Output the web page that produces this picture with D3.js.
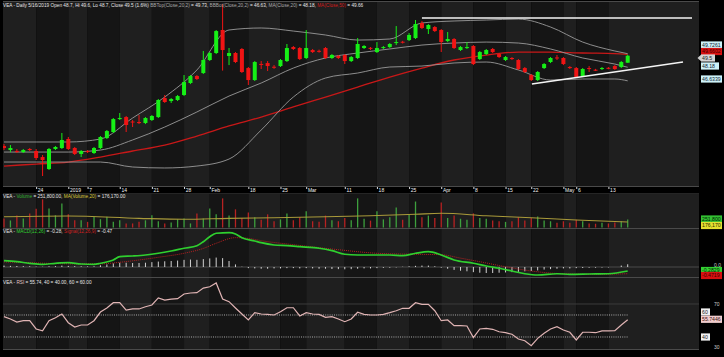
<!DOCTYPE html>
<html><head><meta charset="utf-8">
<script src="https://cdn.jsdelivr.net/npm/d3@7"></script>
<style>
body{margin:0;background:#000;overflow:hidden}
svg{display:block}
text{font-family:"Liberation Sans",Arial,sans-serif}
</style></head>
<body><svg id="c" width="724" height="357"></svg>
<script>
// ---------------- DATA ----------------
const open  = [39.18,38.72,38.62,38.49,38.84,38.61,37.92,36.55,38.84,38.95,39.98,38.95,38.27,38.61,38.38,38.95,40.09,40.78,42.26,42.49,41.98,41.92,41.81,42.15,42.49,44.66,44.32,44.44,45.01,46.38,47.18,47.52,49.01,49.81,52.44,49.47,49.81,50.27,48.09,46.72,48.56,48.66,48.24,48.32,48.89,50.49,50.38,49.24,50.15,50.06,50.38,49.24,49.47,49.58,48.89,49.24,50.38,50.40,49.92,50.38,50.49,50.95,51.10,51.29,51.52,53.24,52.55,52.78,52.44,51.18,51.41,50.15,50.38,50.61,49.12,49.69,50.27,49.69,49.01,49.24,49.01,48.09,47.29,46.72,48.09,48.78,49.30,49.24,48.21,48.09,47.18,48.09,47.90,47.98,48.12,48.32,48.21,48.70];
const high  = [39.41,39.29,38.84,38.84,38.95,38.84,38.15,38.95,39.18,40.67,40.21,39.07,38.72,38.72,39.07,40.32,41.01,42.38,42.95,42.61,42.15,42.72,42.49,42.72,44.55,45.01,44.66,45.01,47.29,47.29,47.29,50.04,49.92,52.44,55.40,50.38,49.92,50.38,48.21,48.89,48.89,48.89,48.43,49.12,50.84,50.61,50.49,52.44,50.27,50.20,50.49,49.69,49.58,49.69,49.47,51.52,50.72,50.49,51.06,50.61,50.95,52.89,51.20,52.09,53.58,53.46,53.12,52.89,52.55,52.21,51.52,50.61,51.06,50.72,50.04,50.27,50.38,49.81,49.47,49.35,49.12,48.21,47.41,47.75,48.66,49.35,49.58,49.35,48.32,48.21,48.09,48.32,48.00,48.21,48.20,48.43,48.89,49.60];
const low   = [38.72,38.49,38.38,38.38,38.61,37.58,35.75,36.44,38.72,38.84,38.72,38.15,37.92,38.38,38.27,38.84,39.98,40.67,42.15,40.78,41.35,41.69,41.69,42.04,42.38,44.10,44.10,44.32,44.89,46.26,46.72,47.41,48.89,49.69,47.80,48.43,48.66,47.52,46.15,46.61,47.98,47.75,48.00,48.21,48.78,50.15,49.01,49.12,49.81,49.85,49.12,49.12,49.12,48.55,48.78,49.12,50.27,50.15,49.81,50.27,50.38,50.72,50.90,51.18,51.41,52.55,51.98,52.21,49.92,51.06,50.27,50.04,50.27,48.43,49.01,49.58,49.81,49.24,48.89,49.01,47.87,47.52,46.61,46.61,47.98,48.66,49.01,48.43,47.98,46.95,47.06,47.64,47.75,47.87,47.95,47.87,48.09,48.70];
const close = [38.95,38.95,38.61,38.72,38.72,37.81,37.58,38.84,39.07,39.87,38.84,38.27,38.61,38.49,38.95,40.21,40.89,42.26,42.38,41.58,41.90,41.80,42.38,42.61,44.44,44.21,44.55,44.89,46.49,47.18,46.84,49.01,49.81,52.32,50.15,49.81,48.78,47.64,46.72,48.78,48.48,48.32,48.18,49.01,50.38,50.27,49.12,50.38,49.92,49.99,49.24,49.58,49.24,48.89,49.35,50.84,50.61,50.32,50.38,50.49,50.84,51.06,51.00,51.87,53.12,52.67,53.01,52.32,51.06,51.41,50.38,50.49,50.49,48.55,49.92,50.15,49.92,49.35,49.35,49.12,47.98,47.64,46.72,47.64,48.55,49.24,49.20,48.55,48.09,47.06,47.98,47.98,47.85,48.09,48.04,47.98,48.78,49.50];
const volume = [290000,225000,380000,290000,450000,600000,900000,610000,390000,770000,420000,230000,230000,180000,340000,265000,340000,180000,230000,130000,130000,180000,230000,390000,200000,130000,160000,265000,290000,130000,450000,290000,610000,420000,930000,380000,580000,300000,480000,330000,250000,420000,200000,260000,450000,230000,330000,520000,200000,180000,380000,230000,200000,300000,230000,930000,280000,220000,520000,260000,330000,640000,250000,420000,830000,330000,380000,300000,800000,300000,380000,280000,250000,450000,300000,280000,220000,200000,180000,200000,330000,220000,300000,350000,220000,200000,150000,200000,150000,250000,200000,130000,120000,150000,130000,160000,200000,251800];
const rsi = [58.5,56.4,53.6,54.8,54.8,47.3,45.7,54.8,57.5,60.9,53.0,49.1,50.9,50.9,54.8,62.7,66.4,71.2,71.2,64.5,65.5,65.5,67.5,69.1,75.5,73.6,74.5,74.8,79.1,80.0,80.3,84.5,85.7,89.1,74.5,72.1,66.4,60.9,55.5,62.1,60.9,60.6,60.0,63.0,66.6,66.6,59.1,62.1,60.9,60.6,57.9,58.5,56.4,53.9,56.4,62.5,60.6,60.0,60.0,60.6,62.1,63.9,66.1,66.1,71.2,69.7,69.7,63.9,54.8,55.5,50.3,50.3,50.0,39.4,47.3,47.9,47.0,44.8,43.9,42.5,38.2,36.6,32.1,38.8,43.4,47.3,49.4,46.4,44.3,37.3,44.3,44.3,43.9,45.5,45.5,45.7,50.9,55.74];
const macdHist = [0.10,0.08,0.07,0.06,0.05,0.03,0.02,0.05,0.06,0.10,0.08,0.06,0.05,0.04,0.05,0.12,0.18,0.25,0.30,0.30,0.28,0.28,0.30,0.34,0.38,0.40,0.42,0.45,0.50,0.52,0.50,0.55,0.60,0.66,0.62,0.42,0.18,0.02,-0.08,-0.10,-0.12,-0.12,-0.10,-0.10,-0.08,-0.08,-0.10,-0.08,-0.10,-0.12,-0.12,-0.14,-0.15,-0.16,-0.15,-0.12,-0.10,-0.10,-0.08,-0.06,-0.05,-0.03,0.02,0.05,0.08,0.10,0.10,0.05,-0.05,-0.12,-0.20,-0.26,-0.30,-0.36,-0.40,-0.42,-0.42,-0.40,-0.38,-0.36,-0.34,-0.30,-0.28,-0.24,-0.18,-0.15,-0.12,-0.10,-0.10,-0.08,-0.07,-0.05,-0.05,-0.04,-0.03,0.00,0.10,0.19];

// indicator lines read at sampled candle indexes
const bandIdx = [0,5,10,15,20,25,30,35,40,45,50,55,60,65,70,75,80,85,90,95,97];
const bbTop = [39.64,39.64,39.64,39.98,42.38,44.78,47.87,52.44,52.67,52.32,51.87,51.29,51.41,53.24,53.47,53.58,53.69,52.78,51.06,50.04,49.73];
const bbMid = [38.49,38.49,38.49,38.72,39.87,41.35,43.07,44.89,46.38,48.09,49.24,49.81,50.27,50.72,50.95,51.06,50.95,50.27,49.24,48.55,48.18];
const bbBot = [37.35,37.35,37.35,37.35,36.78,36.67,36.89,37.69,41.01,44.78,46.95,47.52,48.21,48.32,48.67,48.78,47.87,46.72,46.84,46.84,46.63];
const ma50  = [36.89,37.12,37.35,37.92,38.61,39.29,40.32,41.47,42.49,43.64,44.78,45.92,47.06,48.09,49.01,49.58,49.92,49.92,49.81,49.75,49.66];

const macdIdx = [0,2,4,6,8,10,12,14,15,17,18,20,22,24,26,28,30,31,32,33,35,36,37,39,40,42,44,46,49,51,53,55,58,60,62,64,66,68,70,73,75,77,79,81,83,86,88,91,94,97];
const macdVal = [0.44,0.37,0.26,0.19,0.26,0.30,0.21,0.19,0.26,0.49,0.72,0.77,0.84,0.96,1.12,1.31,1.49,1.77,2.12,2.36,2.40,2.31,2.05,1.82,1.70,1.54,1.49,1.42,1.31,1.14,0.89,0.84,0.84,0.84,0.79,0.96,1.07,0.84,0.49,0.26,0.07,-0.09,-0.28,-0.47,-0.56,-0.47,-0.51,-0.49,-0.47,-0.28];
const sigIdx = [0,4,8,12,15,18,21,24,28,31,33,36,38,40,45,52,58,64,68,71,74,78,82,86,92,97];
const sigVal = [0.36,0.30,0.24,0.22,0.22,0.33,0.49,0.68,0.96,1.30,1.66,2.05,2.00,1.84,1.56,1.21,0.96,0.89,0.86,0.62,0.37,0.02,-0.28,-0.45,-0.51,-0.47];
const vmaIdx = [0,10,21,28,35,42,50,57,64,68,75,82,89,97];
const vmaVal = [345000,367000,293000,262000,293000,313000,345000,376000,421000,453000,376000,313000,239000,176170];

// drawn trendlines (candle index, price)
const trendX1 = [65, 82.1];
const trendP1 = [53.81, 46.27];
const trendX2 = [107, 105.6];
const trendP2 = [53.81, 48.78];

const tickIdx = [5,10,13,18,23,28,32,38,43,47,53,58,63,68,73,78,82,87,89,94];
const tickLabels = ["24","2019","7","14","21","28","Feb","18","25","Mar","11","18","25","Apr","8","15","22","May","6","13"];

// ---------------- DRAW ----------------
const svg = d3.select('#c');
const L = 3, R = 699;
const G = '#16f016', Rd = '#f01414';
const x = d3.scaleLinear().domain([0, 97]).range([4, 627.7]);
const P = {price:[2,186], vol:[194,228], macd:[229,277], rsi:[278,349]};
const yP = d3.scaleLinear().domain([34.61, 55.64]).range([186, 2]);
const yV = d3.scaleLinear().domain([0, 1070000]).range([227.5, 194]);
const yM = d3.scaleLinear().domain([-0.664, 2.692]).range([276.5, 228.5]);
const yR = d3.scaleLinear().domain([29.09, 94.09]).range([349, 277.5]);
const idx = d3.range(close.length);
const up = i => close[i] >= open[i];

// alternating weekly bands
const bounds = [L, ...tickIdx.map(d => x(d)), R];
Object.values(P).forEach(([t, b]) => {
  const g = svg.append('g');
  for (let k = 0; k < bounds.length - 1; k++) {
    g.append('rect').attr('x', bounds[k]).attr('width', bounds[k+1] - bounds[k])
      .attr('y', t).attr('height', b - t).attr('fill', k % 2 === 0 ? '#1f1f1f' : '#151515');
  }
});
// separators
[1.5, 186.5, 193.5, 228.5, 277.5, 349.5].forEach(y =>
  svg.append('line').attr('x1', L).attr('x2', R).attr('y1', y).attr('y2', y).attr('stroke', '#4a4a4a').attr('stroke-width', 1));

// clip for price panel
svg.append('clipPath').attr('id', 'cp').append('rect').attr('x', L).attr('y', P.price[0]).attr('width', R - L).attr('height', P.price[1] - P.price[0]);
const gp = svg.append('g').attr('clip-path', 'url(#cp)');

const bandLine = (arr, ys) => d3.line().x((d, k) => x(bandIdx[k])).y(d => ys(d)).curve(d3.curveMonotoneX)(arr);
gp.append('path').attr('d', bandLine(ma50, yP)).attr('fill', 'none').attr('stroke', '#c81818').attr('stroke-width', 1.3);
[bbTop, bbMid, bbBot].forEach(a => gp.append('path').attr('d', bandLine(a, yP)).attr('fill', 'none').attr('stroke', '#9a9a9a').attr('stroke-width', 0.9));

// candles
gp.selectAll('line.wick').data(idx).join('line').attr('class', 'wick')
  .attr('x1', i => x(i)).attr('x2', i => x(i)).attr('y1', i => yP(high[i])).attr('y2', i => yP(low[i]))
  .attr('stroke', i => up(i) ? G : Rd).attr('stroke-width', 1);
gp.selectAll('rect.body').data(idx).join('rect').attr('class', 'body')
  .attr('x', i => x(i) - 2).attr('width', 4)
  .attr('y', i => yP(Math.max(open[i], close[i])))
  .attr('height', i => Math.max(1, Math.abs(yP(open[i]) - yP(close[i]))))
  .attr('fill', i => up(i) ? G : Rd);

// trendlines
trendX1.forEach((d, k) => gp.append('line').attr('x1', x(d)).attr('y1', yP(trendP1[k])).attr('x2', x(trendX2[k])).attr('y2', yP(trendP2[k]))
  .attr('stroke', '#f4f4f4').attr('stroke-width', 1.6));

// x axis strip
svg.append('rect').attr('x', L).attr('y', 187).attr('width', R - L).attr('height', 6.5).attr('fill', '#000');
const ax = svg.append('g').attr('transform', 'translate(0,187)')
  .call(d3.axisBottom(x).tickValues(tickIdx).tickFormat((d, k) => tickLabels[k]).tickSize(2));
ax.select('.domain').remove();
ax.selectAll('line').attr('stroke', '#ddd');
ax.selectAll('text').attr('fill', '#f0f0f0').attr('font-size', 5).attr('text-anchor', 'start').attr('dx', 1.2).attr('y', 1).attr('dy', '0.75em');

// volume
const gv = svg.append('g');
gv.selectAll('line').data(idx).join('line')
  .attr('x1', i => x(i)).attr('x2', i => x(i)).attr('y1', yV(0)).attr('y2', i => yV(volume[i]))
  .attr('stroke', i => up(i) ? '#3da03d' : '#b82222').attr('stroke-width', 1.3);
gv.append('path').attr('d', d3.line().x((d, k) => x(vmaIdx[k])).y(d => yV(d)).curve(d3.curveMonotoneX)(vmaVal))
  .attr('fill', 'none').attr('stroke', '#a99a3a').attr('stroke-width', 1.1);

// MACD
const gm = svg.append('g');
gm.append('line').attr('x1', L).attr('x2', R).attr('y1', yM(0)).attr('y2', yM(0)).attr('stroke', '#4a4a4a');
gm.selectAll('line.h').data(idx).join('line').attr('class', 'h')
  .attr('x1', i => x(i)).attr('x2', i => x(i)).attr('y1', yM(0)).attr('y2', i => yM(macdHist[i]))
  .attr('stroke', '#e8e8e8').attr('stroke-width', 0.9);
gm.append('path').attr('d', d3.line().x((d, k) => x(sigIdx[k])).y(d => yM(d)).curve(d3.curveMonotoneX)(sigVal))
  .attr('fill', 'none').attr('stroke', '#b42020').attr('stroke-width', 1).attr('stroke-dasharray', '1,1');
gm.append('path').attr('d', d3.line().x((d, k) => x(macdIdx[k])).y(d => yM(d)).curve(d3.curveMonotoneX)(macdVal))
  .attr('fill', 'none').attr('stroke', '#2fd02f').attr('stroke-width', 1.7);

// RSI
const gr = svg.append('g');
gr.append('line').attr('x1', L).attr('x2', R).attr('y1', yR(70)).attr('y2', yR(70)).attr('stroke', '#3c3c3c');
[60, 40].forEach(v => gr.append('line').attr('x1', x(0)).attr('x2', x(97)).attr('y1', yR(v)).attr('y2', yR(v))
  .attr('stroke', '#cfcfcf').attr('stroke-width', 0.8).attr('stroke-dasharray', '1,1.2'));
gr.append('path').attr('d', d3.line().x((d, i) => x(i)).y(d => yR(d))(rsi))
  .attr('fill', 'none').attr('stroke', '#e0b4b4').attr('stroke-width', 1.2);

// headers: one font size, fitted on the price header width
function header(y, parts) {
  const t = svg.append('text').attr('x', 3).attr('y', y).attr('font-size', 5);
  parts.forEach(([s, c]) => t.append('tspan').text(s).attr('fill', c));
  return t;
}
const h0 = header(7, [["VEA - Daily 5/16/2019 Open 48.7, Hi 49.6, Lo 48.7, Close 49.5 (1.6%) ", "#e6e6e6"],
  ["BBTop(Close,20,2)", "#a8a8a8"], [" = 49.73, ", "#e6e6e6"], ["BBBot(Close,20,2)", "#a8a8a8"], [" = 46.63, ", "#e6e6e6"],
  ["MA(Close,20)", "#a8a8a8"], [" = 48.18, ", "#e6e6e6"], ["MA(Close,50)", "#d01a1a"], [" = 49.66", "#e6e6e6"]]);
const hv = header(198, [["VEA - ", "#e6e6e6"], ["Volume", "#2fb02f"], [" = 251,800.00, ", "#e6e6e6"], ["MA(Volume,20)", "#d8c838"], [" = 176,170.00", "#e6e6e6"]]);
const hm = header(233, [["VEA - ", "#e6e6e6"], ["MACD(12,26)", "#2fd02f"], [" = -0.28, ", "#e6e6e6"], ["Signal(12,26,9)", "#d02020"], [" = -0.47", "#e6e6e6"]]);
const hr = header(283.5, [["VEA - ", "#e6e6e6"], ["RSI", "#e2c4c4"], [" = 55.74, 40 = 40.00, 60 = 60.00", "#e6e6e6"]]);
let fs = 5 * 362 / h0.node().getComputedTextLength();
if (!isFinite(fs) || fs < 3.5 || fs > 6) fs = 4.5;
[h0, hv, hm, hr].forEach(t => t.attr('font-size', fs.toFixed(2)));

// right labels
function tag(yc, txt, bg, fg, w, x0) {
  x0 = x0 || 701;
  svg.append('rect').attr('x', x0).attr('y', yc - 3.6).attr('width', w).attr('height', 7.2).attr('fill', bg);
  svg.append('text').attr('x', x0 + 1).attr('y', yc + 1.9).attr('font-size', 5.2).attr('fill', fg).text(txt);
}
function plain(yc, txt) {
  svg.append('text').attr('x', 714).attr('y', yc + 1.9).attr('font-size', 5).attr('fill', '#cfcfcf').text(txt);
}
tag(45, "49.7261", "#cdf2f8", "#102030", 21);
tag(51.5, "49.6602", "#d81010", "#400000", 21);
svg.append('path').attr('d', 'M697.5,58 L701,54.8 L701,61.2 Z').attr('fill', '#d0d0d0');
tag(58, "49.5", "#d4d4d4", "#202020", 14);
tag(66, "48.18", "#cdf2f8", "#102030", 18);
tag(79, "46.6339", "#cdf2f8", "#102030", 21);
tag(219, "251,800", "#33c033", "#002000", 21);
tag(225.5, "176,170", "#e6e030", "#303000", 21);
plain(265.5, "0.0");
tag(270.5, "-0.2829", "#33d033", "#002000", 21);
tag(275.5, "-0.4719", "#d81010", "#400000", 21);
plain(304, "70");
tag(312, "60", "#f0f0f0", "#202020", 9);
tag(319.3, "55.7446", "#f0cccc", "#401010", 21);
tag(337, "40", "#f0f0f0", "#202020", 9);
plain(347, "30");
</script></body></html>
